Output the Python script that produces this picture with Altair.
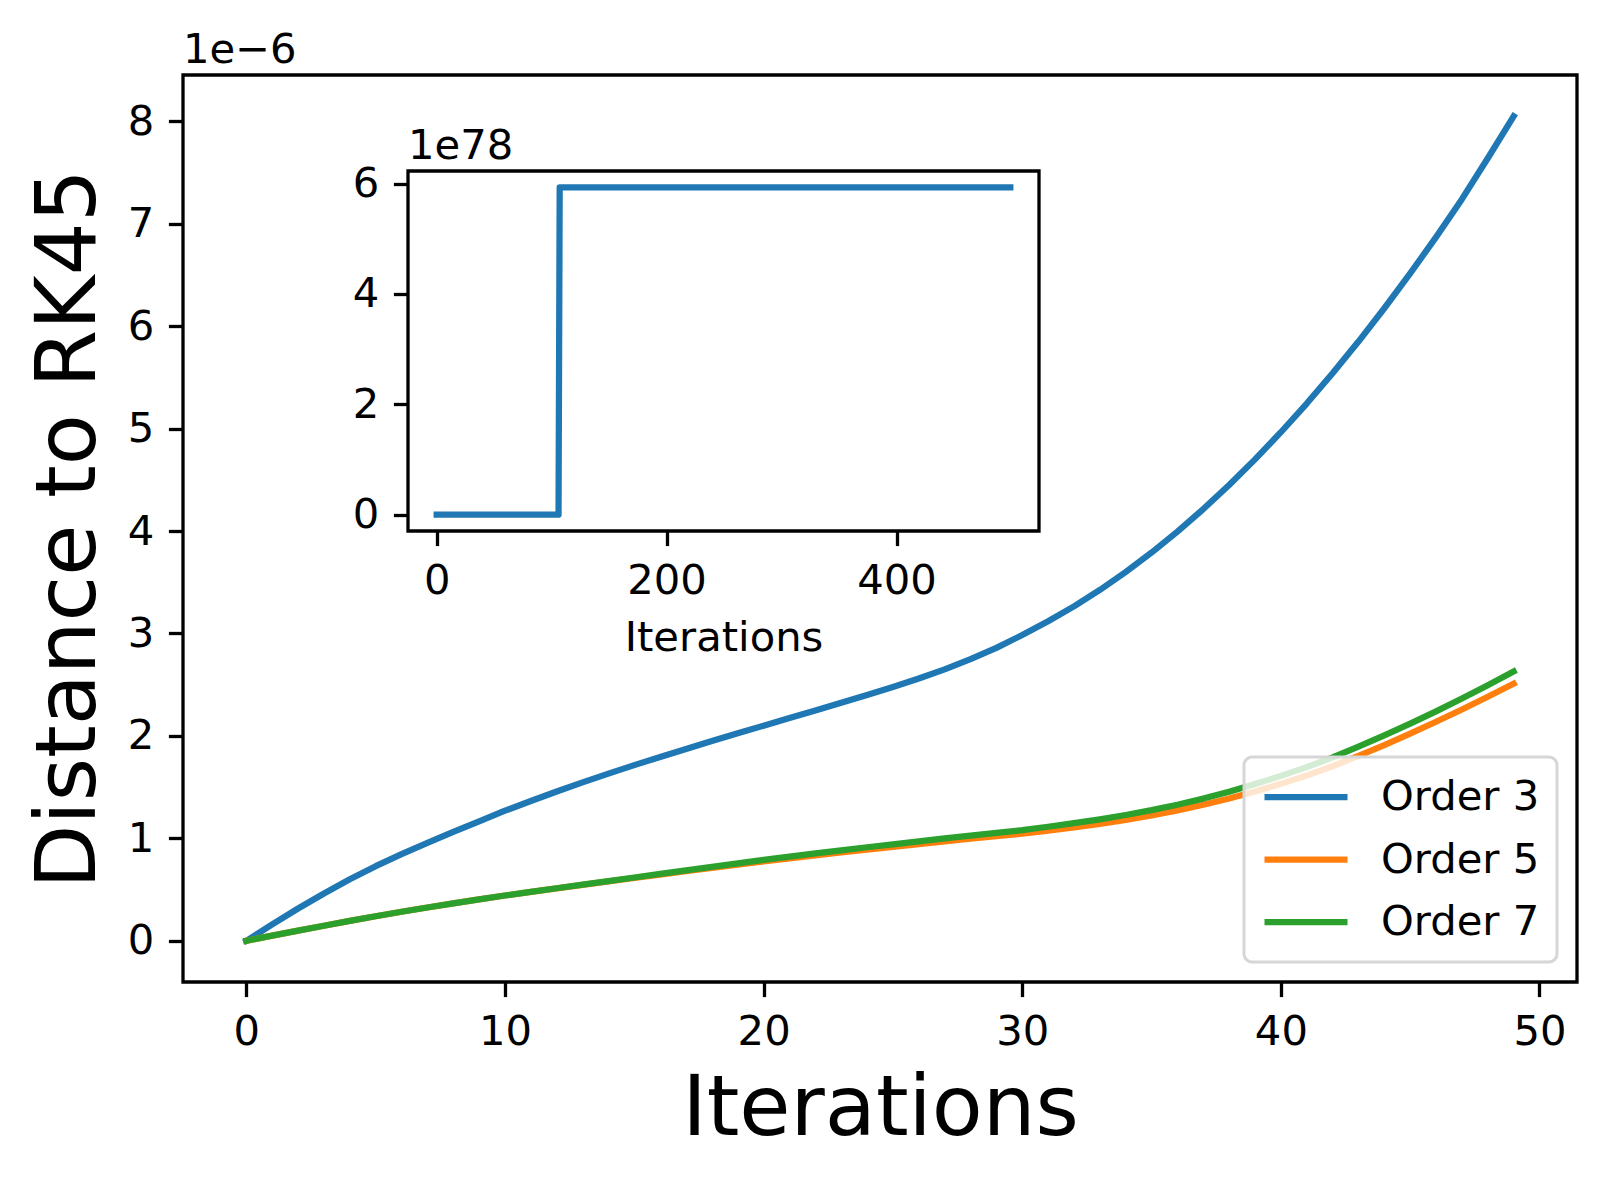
import altair as alt
import pandas as pd

# ---------------- data ----------------
iterations = list(range(50))
series_names = ["Order 3", "Order 5", "Order 7"]
series_colors = ["#1f77b4", "#ff7f0e", "#2ca02c"]

# distance to RK45, in units of 1e-6
order3 = [0.000, 0.160, 0.315, 0.462, 0.600, 0.728, 0.846, 0.955, 1.062, 1.166,
          1.270, 1.365, 1.457, 1.546, 1.632, 1.715, 1.795, 1.873, 1.950, 2.026,
          2.100, 2.174, 2.248, 2.323, 2.399, 2.477, 2.560, 2.650, 2.750, 2.860,
          2.985, 3.120, 3.265, 3.425, 3.600, 3.790, 3.995, 4.215, 4.450, 4.700,
          4.965, 5.245, 5.540, 5.850, 6.175, 6.515, 6.870, 7.240, 7.640, 8.050]
order5 = [0.000, 0.050, 0.099, 0.147, 0.194, 0.239, 0.283, 0.325, 0.365, 0.404,
          0.442, 0.477, 0.511, 0.545, 0.579, 0.613, 0.646, 0.679, 0.711, 0.743,
          0.775, 0.805, 0.834, 0.862, 0.890, 0.917, 0.944, 0.970, 0.996, 1.021,
          1.045, 1.075, 1.107, 1.142, 1.181, 1.225, 1.273, 1.328, 1.389, 1.458,
          1.532, 1.613, 1.704, 1.805, 1.911, 2.022, 2.138, 2.258, 2.382, 2.510]
order7 = [0.000, 0.050, 0.099, 0.147, 0.194, 0.239, 0.283, 0.325, 0.365, 0.404,
          0.442, 0.478, 0.513, 0.548, 0.583, 0.618, 0.653, 0.688, 0.722, 0.756,
          0.790, 0.822, 0.853, 0.883, 0.913, 0.942, 0.971, 0.999, 1.027, 1.054,
          1.080, 1.113, 1.148, 1.186, 1.228, 1.275, 1.328, 1.388, 1.455, 1.530,
          1.610, 1.695, 1.790, 1.895, 2.005, 2.120, 2.240, 2.365, 2.495, 2.630]

# inset: distance over 500 iterations, in units of 1e78
inset_iterations = [0, 106, 107, 499]
inset_values = [0.0, 0.0, 5.93, 5.93]

main_x_ticks = [0, 10, 20, 30, 40, 50]
main_y_ticks = [0, 1, 2, 3, 4, 5, 6, 7, 8]
inset_x_ticks = [0, 200, 400]
inset_y_ticks = [0, 2, 4, 6]
main_offset_label = "1e\u22126"
inset_offset_label = "1e78"

# ---------------- styling / layout ----------------
FONT = "DejaVu Sans"
FS = 41.7          # 10 pt at 300 dpi
FS_BIG = 83.3      # 20 pt
LW = 6.25          # 1.5 pt line
SW = 3.3           # spine / tick width
TL = 14.6          # tick length
TP = 14.6          # tick pad
W, H = 1394, 907
IN_L, IN_R, IN_T, IN_B = 225, 856, 96, 456


def margins(lo, hi, m=0.05):
    pad = (hi - lo) * m
    return [lo - pad, hi + pad]


rows = []
for name, vals in zip(series_names, [order3, order5, order7]):
    for it, v in zip(iterations, vals):
        rows.append({"iter": it, "dist": v, "series": name})
df = pd.DataFrame(rows)

mx = margins(min(iterations), max(iterations))
my = margins(0.0, max(order3 + order5 + order7))
ix = margins(min(inset_iterations), max(inset_iterations))
iy = margins(min(inset_values), max(inset_values))

main_x = alt.X("iter:Q", scale=alt.Scale(domain=mx, nice=False, zero=False),
               axis=alt.Axis(values=main_x_ticks, format="d", title="Iterations",
                             titleFontSize=FS_BIG, titlePadding=16))
main_y = alt.Y("dist:Q", scale=alt.Scale(domain=my, nice=False, zero=False),
               axis=alt.Axis(values=main_y_ticks, format="d", title="Distance to RK45",
                             titleFontSize=FS_BIG, titlePadding=16))

lines = alt.Chart(df).mark_line(strokeWidth=LW, strokeCap="square", strokeJoin="round").encode(
    x=main_x,
    y=main_y,
    color=alt.Color("series:N", scale=alt.Scale(domain=series_names, range=series_colors),
                    legend=alt.Legend(title=None)),
)

main_text = alt.Chart(alt.Data(values=[{"label": main_offset_label}])).mark_text(
    align="left", baseline="alphabetic", dy=-12, fontSize=FS, font=FONT, color="black"
).encode(x=alt.datum(mx[0]), y=alt.datum(my[1]), text="label:N")

main_layer = alt.layer(lines, main_text)

inset_df = pd.DataFrame({"it": inset_iterations, "val": inset_values})

inset_frame = alt.Chart(alt.Data(values=[{"k": 1}])).mark_rect(
    fill="white", stroke="black", strokeWidth=SW
).encode(
    x=alt.datum(ix[0]), x2=alt.datum(ix[1]),
    y=alt.datum(iy[0]), y2=alt.datum(iy[1]),
)

inset_line = alt.Chart(inset_df).mark_line(
    strokeWidth=LW, color=series_colors[0], strokeCap="square", strokeJoin="round"
).encode(
    x=alt.X("it:Q", scale=alt.Scale(domain=ix, range=[IN_L, IN_R], nice=False, zero=False),
            axis=alt.Axis(orient="bottom", offset=IN_B - H, values=inset_x_ticks, format="d",
                          title="Iterations", titleFontSize=FS, titlePadding=16)),
    y=alt.Y("val:Q", scale=alt.Scale(domain=iy, range=[IN_B, IN_T], nice=False, zero=False),
            axis=alt.Axis(orient="left", offset=-IN_L, values=inset_y_ticks, format="d", title="")),
)

inset_text = alt.Chart(alt.Data(values=[{"label": inset_offset_label}])).mark_text(
    align="left", baseline="alphabetic", dy=-12, fontSize=FS, font=FONT, color="black"
).encode(x=alt.datum(ix[0]), y=alt.datum(iy[1]), text="label:N")

inset_layer = alt.layer(inset_frame, inset_line, inset_text)

chart = alt.layer(main_layer, inset_layer).resolve_scale(
    x="independent", y="independent"
).properties(
    width=W, height=H,
    autosize=alt.AutoSizeParams(type="none"),
    padding={"left": 175, "top": 67, "right": 20, "bottom": 180},
    background="white",
).configure_view(
    stroke="black", strokeWidth=SW
).configure_axis(
    labelFont=FONT, labelFontSize=FS, labelColor="black",
    titleFont=FONT, titleFontWeight="normal", titleColor="black",
    tickColor="black", tickWidth=SW, tickSize=TL, labelPadding=TP,
    grid=False, domain=False, labelFlush=False, labelOverlap=False,
).configure_legend(
    orient="bottom-right", offset=20, padding=17,
    strokeColor="#d6d6d6", strokeWidth=3, cornerRadius=8,
    fillColor="rgba(255,255,255,0.8)",
    labelFont=FONT, labelFontSize=FS, labelColor="black", labelOffset=30,
    symbolType="stroke", symbolStrokeWidth=LW, symbolSize=83 * 83,
    clipHeight=46, rowPadding=16.5,
)

chart.save("out.html", embed_options={"renderer": "svg", "actions": False})
